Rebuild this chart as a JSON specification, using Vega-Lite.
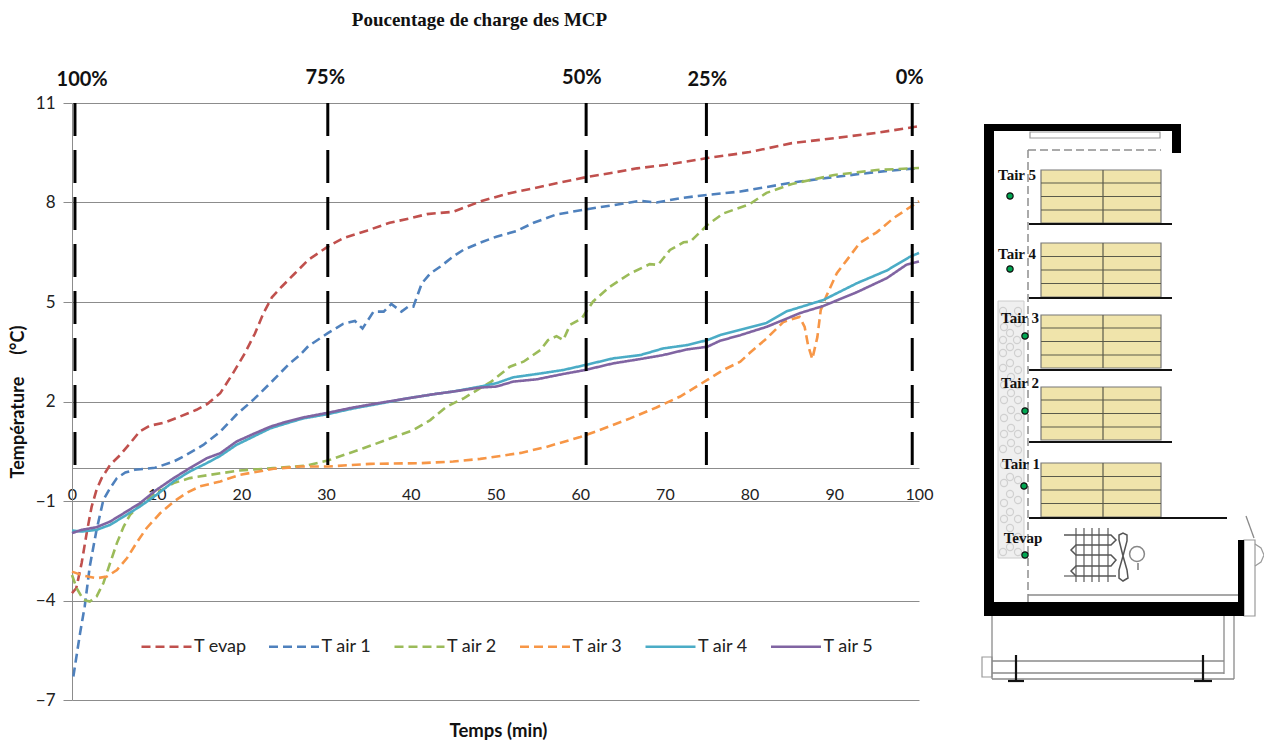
{
"$schema":"https://vega.github.io/schema/vega-lite/v6.json",
"background":"white",
"padding":{"left":9,"top":11,"right":0,"bottom":0},
"config":{"view":{"stroke":null}},
"spacing":28,
"datasets":{
"curves":[
{"s":"T evap","t":0,"v":-3.78},{"s":"T evap","t":0.5,"v":-3.63},{"s":"T evap","t":1.14,"v":-2.87},{"s":"T evap","t":1.73,"v":-1.97},{"s":"T evap","t":2.32,"v":-1.17},{"s":"T evap","t":2.9,"v":-0.66},{"s":"T evap","t":3.5,"v":-0.31},{"s":"T evap","t":4.5,"v":0.09},{"s":"T evap","t":5.7,"v":0.39},{"s":"T evap","t":6.85,"v":0.74},{"s":"T evap","t":8,"v":1.1},{"s":"T evap","t":9.2,"v":1.27},{"s":"T evap","t":11,"v":1.37},{"s":"T evap","t":12.8,"v":1.55},{"s":"T evap","t":14.7,"v":1.75},{"s":"T evap","t":16,"v":1.93},{"s":"T evap","t":17.5,"v":2.25},{"s":"T evap","t":19,"v":2.85},{"s":"T evap","t":20.4,"v":3.45},{"s":"T evap","t":21.6,"v":4.05},{"s":"T evap","t":22.6,"v":4.66},{"s":"T evap","t":23.6,"v":5.14},{"s":"T evap","t":24.75,"v":5.46},{"s":"T evap","t":26.3,"v":5.86},{"s":"T evap","t":27.9,"v":6.27},{"s":"T evap","t":30.2,"v":6.67},{"s":"T evap","t":32,"v":6.92},{"s":"T evap","t":34.8,"v":7.15},{"s":"T evap","t":37.5,"v":7.39},{"s":"T evap","t":39.9,"v":7.52},{"s":"T evap","t":41.9,"v":7.65},{"s":"T evap","t":45,"v":7.72},{"s":"T evap","t":48.2,"v":8.03},{"s":"T evap","t":51.3,"v":8.26},{"s":"T evap","t":54.5,"v":8.43},{"s":"T evap","t":57.6,"v":8.6},{"s":"T evap","t":60.6,"v":8.76},{"s":"T evap","t":63.9,"v":8.9},{"s":"T evap","t":66.7,"v":9.03},{"s":"T evap","t":70,"v":9.13},{"s":"T evap","t":75,"v":9.34},{"s":"T evap","t":80,"v":9.52},{"s":"T evap","t":85,"v":9.79},{"s":"T evap","t":90,"v":9.94},{"s":"T evap","t":95,"v":10.1},{"s":"T evap","t":100,"v":10.3},
{"s":"T air 1","t":0.16,"v":-6.29},{"s":"T air 1","t":0.95,"v":-4.99},{"s":"T air 1","t":1.5,"v":-4.18},{"s":"T air 1","t":2.1,"v":-2.97},{"s":"T air 1","t":2.9,"v":-1.87},{"s":"T air 1","t":3.7,"v":-0.97},{"s":"T air 1","t":4.5,"v":-0.61},{"s":"T air 1","t":5.3,"v":-0.31},{"s":"T air 1","t":6.3,"v":-0.14},{"s":"T air 1","t":7.4,"v":-0.06},{"s":"T air 1","t":9.8,"v":0},{"s":"T air 1","t":12,"v":0.19},{"s":"T air 1","t":13.5,"v":0.39},{"s":"T air 1","t":15.5,"v":0.69},{"s":"T air 1","t":17.5,"v":1.09},{"s":"T air 1","t":19.4,"v":1.6},{"s":"T air 1","t":21.4,"v":2.05},{"s":"T air 1","t":23.4,"v":2.55},{"s":"T air 1","t":25.7,"v":3.15},{"s":"T air 1","t":26.9,"v":3.4},{"s":"T air 1","t":27.9,"v":3.67},{"s":"T air 1","t":30.2,"v":4.06},{"s":"T air 1","t":32,"v":4.34},{"s":"T air 1","t":33.4,"v":4.43},{"s":"T air 1","t":34.3,"v":4.2},{"s":"T air 1","t":35.6,"v":4.71},{"s":"T air 1","t":36.8,"v":4.71},{"s":"T air 1","t":37.7,"v":4.94},{"s":"T air 1","t":38.9,"v":4.71},{"s":"T air 1","t":39.7,"v":4.86},{"s":"T air 1","t":40.3,"v":4.86},{"s":"T air 1","t":41.3,"v":5.56},{"s":"T air 1","t":42.3,"v":5.86},{"s":"T air 1","t":43.5,"v":6.07},{"s":"T air 1","t":45,"v":6.37},{"s":"T air 1","t":46.2,"v":6.57},{"s":"T air 1","t":48.2,"v":6.79},{"s":"T air 1","t":50.1,"v":6.97},{"s":"T air 1","t":52.5,"v":7.14},{"s":"T air 1","t":54.5,"v":7.39},{"s":"T air 1","t":57.2,"v":7.64},{"s":"T air 1","t":60.6,"v":7.79},{"s":"T air 1","t":63.9,"v":7.92},{"s":"T air 1","t":67.1,"v":8.05},{"s":"T air 1","t":69,"v":8},{"s":"T air 1","t":71.8,"v":8.13},{"s":"T air 1","t":75,"v":8.23},{"s":"T air 1","t":78.9,"v":8.33},{"s":"T air 1","t":85,"v":8.6},{"s":"T air 1","t":90,"v":8.77},{"s":"T air 1","t":95,"v":8.92},{"s":"T air 1","t":100,"v":9.04},
{"s":"T air 2","t":0,"v":-3.23},{"s":"T air 2","t":0.55,"v":-3.63},{"s":"T air 2","t":1.34,"v":-3.98},{"s":"T air 2","t":2.1,"v":-4.03},{"s":"T air 2","t":2.9,"v":-3.88},{"s":"T air 2","t":3.7,"v":-3.48},{"s":"T air 2","t":4.5,"v":-2.87},{"s":"T air 2","t":5.3,"v":-2.27},{"s":"T air 2","t":6.1,"v":-1.77},{"s":"T air 2","t":6.85,"v":-1.42},{"s":"T air 2","t":8,"v":-1.12},{"s":"T air 2","t":10,"v":-0.76},{"s":"T air 2","t":12,"v":-0.46},{"s":"T air 2","t":13.9,"v":-0.31},{"s":"T air 2","t":16.3,"v":-0.21},{"s":"T air 2","t":19.8,"v":-0.08},{"s":"T air 2","t":23.8,"v":-0.01},{"s":"T air 2","t":27.7,"v":0.07},{"s":"T air 2","t":30.2,"v":0.22},{"s":"T air 2","t":34.4,"v":0.59},{"s":"T air 2","t":37.1,"v":0.84},{"s":"T air 2","t":40.3,"v":1.14},{"s":"T air 2","t":42.3,"v":1.44},{"s":"T air 2","t":44.2,"v":1.84},{"s":"T air 2","t":46.2,"v":2.09},{"s":"T air 2","t":48.2,"v":2.4},{"s":"T air 2","t":49.5,"v":2.6},{"s":"T air 2","t":51.7,"v":3.05},{"s":"T air 2","t":53.3,"v":3.2},{"s":"T air 2","t":55.3,"v":3.55},{"s":"T air 2","t":56.2,"v":3.85},{"s":"T air 2","t":57.2,"v":3.97},{"s":"T air 2","t":58,"v":3.85},{"s":"T air 2","t":58.8,"v":4.31},{"s":"T air 2","t":60.2,"v":4.51},{"s":"T air 2","t":61.5,"v":5.01},{"s":"T air 2","t":63.5,"v":5.46},{"s":"T air 2","t":65.9,"v":5.86},{"s":"T air 2","t":68.2,"v":6.14},{"s":"T air 2","t":69.2,"v":6.12},{"s":"T air 2","t":70.6,"v":6.57},{"s":"T air 2","t":72.2,"v":6.8},{"s":"T air 2","t":73,"v":6.82},{"s":"T air 2","t":75,"v":7.32},{"s":"T air 2","t":76.9,"v":7.67},{"s":"T air 2","t":78.9,"v":7.85},{"s":"T air 2","t":80,"v":7.95},{"s":"T air 2","t":82,"v":8.29},{"s":"T air 2","t":85,"v":8.56},{"s":"T air 2","t":90,"v":8.83},{"s":"T air 2","t":95,"v":8.98},{"s":"T air 2","t":100,"v":9.04},
{"s":"T air 3","t":0,"v":-3.13},{"s":"T air 3","t":1.34,"v":-3.25},{"s":"T air 3","t":2.9,"v":-3.33},{"s":"T air 3","t":4.1,"v":-3.28},{"s":"T air 3","t":5.3,"v":-3.08},{"s":"T air 3","t":6.5,"v":-2.72},{"s":"T air 3","t":7.6,"v":-2.27},{"s":"T air 3","t":8.8,"v":-1.82},{"s":"T air 3","t":10.4,"v":-1.37},{"s":"T air 3","t":12,"v":-1.02},{"s":"T air 3","t":13.5,"v":-0.76},{"s":"T air 3","t":15.1,"v":-0.56},{"s":"T air 3","t":17.5,"v":-0.41},{"s":"T air 3","t":19.8,"v":-0.21},{"s":"T air 3","t":23.8,"v":-0.03},{"s":"T air 3","t":27,"v":0.04},{"s":"T air 3","t":30.2,"v":0.04},{"s":"T air 3","t":35.2,"v":0.12},{"s":"T air 3","t":41.1,"v":0.14},{"s":"T air 3","t":45,"v":0.19},{"s":"T air 3","t":48.2,"v":0.27},{"s":"T air 3","t":53,"v":0.45},{"s":"T air 3","t":56,"v":0.63},{"s":"T air 3","t":60,"v":0.93},{"s":"T air 3","t":62.3,"v":1.14},{"s":"T air 3","t":65.9,"v":1.49},{"s":"T air 3","t":69,"v":1.82},{"s":"T air 3","t":71.8,"v":2.15},{"s":"T air 3","t":75,"v":2.65},{"s":"T air 3","t":76.9,"v":2.95},{"s":"T air 3","t":78.9,"v":3.2},{"s":"T air 3","t":80,"v":3.46},{"s":"T air 3","t":82,"v":3.9},{"s":"T air 3","t":84,"v":4.4},{"s":"T air 3","t":85.9,"v":4.55},{"s":"T air 3","t":86.5,"v":4.25},{"s":"T air 3","t":86.9,"v":3.7},{"s":"T air 3","t":87.4,"v":3.28},{"s":"T air 3","t":88,"v":3.94},{"s":"T air 3","t":88.4,"v":4.76},{"s":"T air 3","t":89.1,"v":5.2},{"s":"T air 3","t":90.3,"v":5.87},{"s":"T air 3","t":91.5,"v":6.27},{"s":"T air 3","t":93,"v":6.78},{"s":"T air 3","t":95,"v":7.1},{"s":"T air 3","t":97,"v":7.53},{"s":"T air 3","t":100,"v":8.04},
{"s":"T air 4","t":0,"v":-1.89},{"s":"T air 4","t":1.14,"v":-1.92},{"s":"T air 4","t":2.9,"v":-1.87},{"s":"T air 4","t":4.5,"v":-1.72},{"s":"T air 4","t":6.1,"v":-1.47},{"s":"T air 4","t":8,"v":-1.17},{"s":"T air 4","t":10,"v":-0.81},{"s":"T air 4","t":12,"v":-0.41},{"s":"T air 4","t":13.9,"v":-0.11},{"s":"T air 4","t":15.9,"v":0.14},{"s":"T air 4","t":17.5,"v":0.36},{"s":"T air 4","t":19.4,"v":0.69},{"s":"T air 4","t":21.4,"v":0.94},{"s":"T air 4","t":23.4,"v":1.19},{"s":"T air 4","t":25.3,"v":1.34},{"s":"T air 4","t":27.3,"v":1.49},{"s":"T air 4","t":30.2,"v":1.62},{"s":"T air 4","t":33.2,"v":1.79},{"s":"T air 4","t":36.4,"v":1.94},{"s":"T air 4","t":39.5,"v":2.09},{"s":"T air 4","t":42.7,"v":2.22},{"s":"T air 4","t":45,"v":2.3},{"s":"T air 4","t":48.2,"v":2.45},{"s":"T air 4","t":50.1,"v":2.55},{"s":"T air 4","t":52.1,"v":2.73},{"s":"T air 4","t":54.9,"v":2.83},{"s":"T air 4","t":58,"v":2.95},{"s":"T air 4","t":60.6,"v":3.1},{"s":"T air 4","t":63.9,"v":3.3},{"s":"T air 4","t":67.1,"v":3.4},{"s":"T air 4","t":69.8,"v":3.6},{"s":"T air 4","t":72.6,"v":3.7},{"s":"T air 4","t":75,"v":3.85},{"s":"T air 4","t":76.5,"v":4},{"s":"T air 4","t":78.9,"v":4.16},{"s":"T air 4","t":82,"v":4.37},{"s":"T air 4","t":84.4,"v":4.72},{"s":"T air 4","t":88.7,"v":5.06},{"s":"T air 4","t":92.7,"v":5.57},{"s":"T air 4","t":96.2,"v":5.95},{"s":"T air 4","t":98.9,"v":6.36},{"s":"T air 4","t":100,"v":6.48},
{"s":"T air 5","t":0,"v":-1.97},{"s":"T air 5","t":1.14,"v":-1.87},{"s":"T air 5","t":2.9,"v":-1.79},{"s":"T air 5","t":4.5,"v":-1.62},{"s":"T air 5","t":6.1,"v":-1.37},{"s":"T air 5","t":8,"v":-1.07},{"s":"T air 5","t":10,"v":-0.66},{"s":"T air 5","t":12,"v":-0.31},{"s":"T air 5","t":13.9,"v":-0.01},{"s":"T air 5","t":15.9,"v":0.29},{"s":"T air 5","t":17.5,"v":0.44},{"s":"T air 5","t":19.4,"v":0.79},{"s":"T air 5","t":21.4,"v":1.02},{"s":"T air 5","t":23.4,"v":1.24},{"s":"T air 5","t":25.3,"v":1.39},{"s":"T air 5","t":27.3,"v":1.52},{"s":"T air 5","t":30.2,"v":1.66},{"s":"T air 5","t":33.2,"v":1.82},{"s":"T air 5","t":36.4,"v":1.96},{"s":"T air 5","t":39.5,"v":2.09},{"s":"T air 5","t":42.7,"v":2.22},{"s":"T air 5","t":45,"v":2.3},{"s":"T air 5","t":48.2,"v":2.42},{"s":"T air 5","t":50.1,"v":2.45},{"s":"T air 5","t":52.1,"v":2.6},{"s":"T air 5","t":54.9,"v":2.67},{"s":"T air 5","t":58,"v":2.83},{"s":"T air 5","t":60.6,"v":2.95},{"s":"T air 5","t":63.9,"v":3.15},{"s":"T air 5","t":67.1,"v":3.28},{"s":"T air 5","t":69.8,"v":3.4},{"s":"T air 5","t":72.6,"v":3.57},{"s":"T air 5","t":75,"v":3.65},{"s":"T air 5","t":76.5,"v":3.83},{"s":"T air 5","t":78.9,"v":4},{"s":"T air 5","t":82,"v":4.25},{"s":"T air 5","t":86,"v":4.67},{"s":"T air 5","t":88.7,"v":4.88},{"s":"T air 5","t":92.7,"v":5.3},{"s":"T air 5","t":96.2,"v":5.72},{"s":"T air 5","t":98.5,"v":6.12},{"s":"T air 5","t":100,"v":6.22}
],
"charge":[
{"t":0.35,"top":11,"base":0,"label":"100%","lt":1.2,"ly":11.7},
{"t":30.2,"top":11,"base":0,"label":"75%","lt":29.9,"ly":11.75},
{"t":60.7,"top":11,"base":0,"label":"50%","lt":60.2,"ly":11.75},
{"t":74.9,"top":11,"base":0,"label":"25%","lt":75,"ly":11.7},
{"t":99.2,"top":11,"base":0,"label":"0%","lt":98.9,"ly":11.75}
],
"walls":[{"a":23,"b":33,"c":21,"d":513},{"a":23,"b":220,"c":21,"d":28},{"a":211,"b":220,"c":21,"d":50},{"a":23,"b":283,"c":499,"d":513},{"a":277,"b":283,"c":437,"d":513},{"a":227,"b":283,"c":507,"d":513}],
"pcm":[{"a":37,"b":63,"c":198,"d":455}],
"frames":[{"a":69,"b":199,"c":29,"d":35},{"a":283,"b":294,"c":437,"d":513},{"a":21,"b":31,"c":554,"d":574}],
"boxes":[{"a":80,"b":200,"c":67,"d":120},{"a":80,"b":200,"c":140,"d":194},{"a":80,"b":200,"c":212,"d":265},{"a":80,"b":200,"c":284,"d":337},{"a":80,"b":200,"c":360,"d":414}],
"dividers":[
{"a":80,"b":200,"c":80,"d":80},{"a":80,"b":200,"c":93.5,"d":93.5},{"a":80,"b":200,"c":107,"d":107},{"a":142,"b":142,"c":67,"d":120},
{"a":80,"b":200,"c":153.5,"d":153.5},{"a":80,"b":200,"c":167,"d":167},{"a":80,"b":200,"c":180.5,"d":180.5},{"a":142,"b":142,"c":140,"d":194},
{"a":80,"b":200,"c":225,"d":225},{"a":80,"b":200,"c":238.5,"d":238.5},{"a":80,"b":200,"c":252,"d":252},{"a":142,"b":142,"c":212,"d":265},
{"a":80,"b":200,"c":297,"d":297},{"a":80,"b":200,"c":310.5,"d":310.5},{"a":80,"b":200,"c":324,"d":324},{"a":142,"b":142,"c":284,"d":337},
{"a":80,"b":200,"c":373.5,"d":373.5},{"a":80,"b":200,"c":387,"d":387},{"a":80,"b":200,"c":400.5,"d":400.5},{"a":142,"b":142,"c":360,"d":414}
],
"shelves":[{"a":68,"b":211,"c":121,"d":121},{"a":68,"b":211,"c":195,"d":195},{"a":68,"b":211,"c":267,"d":267},{"a":68,"b":211,"c":339,"d":339},{"a":68,"b":266,"c":415,"d":415},
{"a":55,"b":55,"c":552,"d":578},{"a":47,"b":63,"c":578,"d":578},{"a":242,"b":242,"c":552,"d":578},{"a":233,"b":251,"c":578,"d":578}],
"curtain":[{"a":67,"b":200,"c":47,"d":47},{"a":67,"b":67,"c":47,"d":499}],
"base":[{"a":31,"b":31,"c":513,"d":576},{"a":263,"b":263,"c":513,"d":571},{"a":273,"b":273,"c":513,"d":576},{"a":31,"b":263,"c":570,"d":570},{"a":31,"b":273,"c":576,"d":576},{"a":31,"b":263,"c":558,"d":558},{"a":285,"b":293,"c":413,"d":435},{"a":67,"b":277,"c":492,"d":492}],
"fins":[{"a":115,"b":115,"c":425,"d":479},{"a":123,"b":123,"c":425,"d":479},{"a":131,"b":131,"c":425,"d":479},{"a":138,"b":138,"c":425,"d":479},{"a":147,"b":147,"c":425,"d":479},{"a":103,"b":115,"c":473,"d":473},{"a":177,"b":177,"c":460,"d":467}],
"paths":[
{"p":"coil","i":1,"x":103,"y":432},{"p":"coil","i":2,"x":150,"y":432},{"p":"coil","i":3,"x":155,"y":437},{"p":"coil","i":4,"x":150,"y":442},{"p":"coil","i":5,"x":115,"y":442},{"p":"coil","i":6,"x":110,"y":447},{"p":"coil","i":7,"x":115,"y":452},{"p":"coil","i":8,"x":150,"y":452},{"p":"coil","i":9,"x":155,"y":457},{"p":"coil","i":10,"x":150,"y":463},{"p":"coil","i":11,"x":115,"y":463},{"p":"coil","i":12,"x":110,"y":468},{"p":"coil","i":13,"x":115,"y":473},{"p":"coil","i":14,"x":155,"y":473},
{"p":"blade1","i":1,"x":162,"y":453},{"p":"blade1","i":2,"x":158,"y":437},{"p":"blade1","i":3,"x":158,"y":432},{"p":"blade1","i":4,"x":162,"y":430},{"p":"blade1","i":5,"x":166,"y":432},{"p":"blade1","i":6,"x":166,"y":438},{"p":"blade1","i":7,"x":162,"y":453},
{"p":"blade2","i":1,"x":162,"y":453},{"p":"blade2","i":2,"x":158,"y":467},{"p":"blade2","i":3,"x":158,"y":475},{"p":"blade2","i":4,"x":162,"y":478},{"p":"blade2","i":5,"x":167,"y":475},{"p":"blade2","i":6,"x":166,"y":467},{"p":"blade2","i":7,"x":162,"y":453}
],
"arc":[{"i":1,"x":294,"y":441},{"i":2,"x":300,"y":445},{"i":3,"x":303,"y":452},{"i":4,"x":300,"y":459},{"i":5,"x":294,"y":463}],
"motor":[{"x":176,"y":451}],
"pellets":[{"x":42,"y":208},{"x":57,"y":208},{"x":49,"y":215},{"x":43,"y":224},{"x":57,"y":220},{"x":49,"y":230},{"x":42,"y":237},{"x":56,"y":237},{"x":49,"y":244},{"x":42,"y":250},{"x":57,"y":250},{"x":49,"y":260},{"x":42,"y":265},{"x":57,"y":267},{"x":50,"y":274},{"x":43,"y":282},{"x":57,"y":282},{"x":50,"y":290},{"x":43,"y":297},{"x":57,"y":297},{"x":50,"y":307},{"x":57,"y":314},{"x":43,"y":315},{"x":50,"y":325},{"x":43,"y":331},{"x":57,"y":331},{"x":50,"y":340},{"x":42,"y":346},{"x":57,"y":347},{"x":43,"y":362},{"x":49,"y":374},{"x":43,"y":380},{"x":57,"y":377},{"x":49,"y":391},{"x":43,"y":400},{"x":57,"y":397},{"x":49,"y":409},{"x":43,"y":416},{"x":57,"y":416},{"x":49,"y":425},{"x":57,"y":434},{"x":42,"y":449},{"x":49,"y":444},{"x":57,"y":449}],
"sensors":[{"label":"Tair 5","x":49,"y":93,"lx":56,"ly":72},{"label":"Tair 4","x":49,"y":166,"lx":56,"ly":151},{"label":"Tair 3","x":64,"y":233,"lx":59,"ly":215},{"label":"Tair 2","x":64,"y":308,"lx":59,"ly":280},{"label":"Tair 1","x":63,"y":383,"lx":60,"ly":361},{"label":"Tevap","x":64,"y":452,"lx":62,"ly":435}]
},
"hconcat":[
{
"width":847,"height":597,
"title":{"text":"Poucentage de charge des MCP","font":"Liberation Serif","fontSize":19,"fontWeight":"bold","color":"#111111","anchor":"middle","dx":-16,"offset":38},
"layer":[
{"data":{"name":"curves"},
 "mark":{"type":"line","strokeWidth":2.6,"interpolate":"linear"},
 "encoding":{
  "x":{"field":"t","type":"quantitative","scale":{"domain":[0,100],"nice":false},
   "axis":{"values":[0,10,20,30,40,50,60,70,80,90,100],"offset":-232,"ticks":false,"grid":false,"labelFlush":false,"domainColor":"#8c8c8c","labelFont":"Lato","labelFontSize":16,"labelColor":"#222222","labelPadding":18,"title":"Temps (min)","titleFont":"Lato","titleFontSize":18.5,"titleFontWeight":"bold","titleColor":"#111111","titleX":426,"titleY":253}},
  "y":{"field":"v","type":"quantitative","scale":{"domain":[-7,11],"nice":false},
   "axis":{"values":[-7,-4,-1,2,5,8,11],"grid":true,"gridColor":"#8c8c8c","gridWidth":1,"domainColor":"#8c8c8c","tickColor":"#8c8c8c","tickSize":9,"labelFont":"Lato","labelFontSize":17,"labelColor":"#222222","labelPadding":8,"title":"Température\u00a0\u00a0\u00a0\u00a0\u00a0(°C)","titleFont":"Lato","titleFontSize":18,"titleFontWeight":"bold","titleColor":"#111111","titlePadding":8}},
  "color":{"field":"s","type":"nominal","scale":{"domain":["T evap","T air 1","T air 2","T air 3","T air 4","T air 5"],"range":["#c0504d","#4f81bd","#9bbb59","#f79646","#4bacc6","#8064a2"]},
   "legend":{"title":null,"orient":"none","legendX":68,"legendY":517,"direction":"horizontal","columns":6,"symbolType":"stroke","symbolSize":2500,"symbolStrokeWidth":2.6,"labelFont":"Lato","labelFontSize":18,"labelColor":"#222222","labelOffset":1,"columnPadding":16.5}},
  "strokeDash":{"field":"s","type":"nominal","scale":{"domain":["T evap","T air 1","T air 2","T air 3","T air 4","T air 5"],"range":[[9,5],[9,5],[9,5],[9,5],[1,0],[1,0]]}}
 }},
{"data":{"name":"charge"},
 "mark":{"type":"rule","color":"black","strokeWidth":3,"strokeDash":[33,14]},
 "encoding":{"x":{"field":"t","type":"quantitative"},"y":{"field":"top","type":"quantitative"},"y2":{"field":"base"}}},
{"data":{"name":"charge"},
 "mark":{"type":"text","font":"Lato","fontSize":20,"fontWeight":"bold","color":"#111111"},
 "encoding":{"x":{"field":"lt","type":"quantitative"},"y":{"field":"ly","type":"quantitative"},"text":{"field":"label"}}}
]},
{
"width":304,"height":597,
"encoding":{},
"layer":[
{"data":{"name":"pcm"},"mark":{"type":"rect","fill":"#efefef","stroke":"#cccccc"},
 "encoding":{"x":{"field":"a","type":"quantitative","axis":null,"scale":{"domain":[0,304],"nice":false}},"x2":{"field":"b"},"y":{"field":"c","type":"quantitative","axis":null,"scale":{"domain":[597,0],"nice":false}},"y2":{"field":"d"}}},
{"data":{"name":"pellets"},"mark":{"type":"point","shape":"circle","filled":false,"size":50,"stroke":"#c4c4c4","strokeWidth":1.2},
 "encoding":{"x":{"field":"x","type":"quantitative"},"y":{"field":"y","type":"quantitative"}}},
{"data":{"name":"frames"},"mark":{"type":"rect","fill":"white","fillOpacity":0,"stroke":"#9a9a9a","strokeWidth":1.2},
 "encoding":{"x":{"field":"a","type":"quantitative"},"x2":{"field":"b"},"y":{"field":"c","type":"quantitative"},"y2":{"field":"d"}}},
{"data":{"name":"boxes"},"mark":{"type":"rect","fill":"#f0e4ab","stroke":"#777777","strokeWidth":1.2},
 "encoding":{"x":{"field":"a","type":"quantitative"},"x2":{"field":"b"},"y":{"field":"c","type":"quantitative"},"y2":{"field":"d"}}},
{"data":{"name":"dividers"},"mark":{"type":"rule","color":"#5a5a4a","strokeWidth":1.2},
 "encoding":{"x":{"field":"a","type":"quantitative"},"x2":{"field":"b"},"y":{"field":"c","type":"quantitative"},"y2":{"field":"d"}}},
{"data":{"name":"curtain"},"mark":{"type":"rule","color":"#8f8f8f","strokeWidth":1.5,"strokeDash":[8,4]},
 "encoding":{"x":{"field":"a","type":"quantitative"},"x2":{"field":"b"},"y":{"field":"c","type":"quantitative"},"y2":{"field":"d"}}},
{"data":{"name":"base"},"mark":{"type":"rule","color":"#8a8a8a","strokeWidth":1.3},
 "encoding":{"x":{"field":"a","type":"quantitative"},"x2":{"field":"b"},"y":{"field":"c","type":"quantitative"},"y2":{"field":"d"}}},
{"data":{"name":"shelves"},"mark":{"type":"rule","color":"#111111","strokeWidth":2.2},
 "encoding":{"x":{"field":"a","type":"quantitative"},"x2":{"field":"b"},"y":{"field":"c","type":"quantitative"},"y2":{"field":"d"}}},
{"data":{"name":"walls"},"mark":{"type":"rect","fill":"black"},
 "encoding":{"x":{"field":"a","type":"quantitative"},"x2":{"field":"b"},"y":{"field":"c","type":"quantitative"},"y2":{"field":"d"}}},
{"data":{"name":"fins"},"mark":{"type":"rule","color":"#666666","strokeWidth":1.3},
 "encoding":{"x":{"field":"a","type":"quantitative"},"x2":{"field":"b"},"y":{"field":"c","type":"quantitative"},"y2":{"field":"d"}}},
{"data":{"name":"paths"},"mark":{"type":"line","color":"#555555","strokeWidth":1.5},
 "encoding":{"x":{"field":"x","type":"quantitative"},"y":{"field":"y","type":"quantitative"},"detail":{"field":"p"},"order":{"field":"i","type":"quantitative"}}},
{"data":{"name":"arc"},"mark":{"type":"line","color":"#9a9a9a","strokeWidth":1.2},
 "encoding":{"x":{"field":"x","type":"quantitative"},"y":{"field":"y","type":"quantitative"},"order":{"field":"i","type":"quantitative"}}},
{"data":{"name":"motor"},"mark":{"type":"point","shape":"circle","filled":false,"size":220,"stroke":"#555555","strokeWidth":1.5},
 "encoding":{"x":{"field":"x","type":"quantitative"},"y":{"field":"y","type":"quantitative"}}},
{"data":{"name":"sensors"},"mark":{"type":"point","shape":"circle","filled":true,"size":40,"fill":"#00a651","stroke":"#111111","strokeWidth":1.2,"opacity":1},
 "encoding":{"x":{"field":"x","type":"quantitative"},"y":{"field":"y","type":"quantitative"}}},
{"data":{"name":"sensors"},"mark":{"type":"text","font":"Liberation Serif","fontWeight":"bold","fontSize":15,"color":"#111111"},
 "encoding":{"x":{"field":"lx","type":"quantitative"},"y":{"field":"ly","type":"quantitative"},"text":{"field":"label"}}}
]}
]
}
